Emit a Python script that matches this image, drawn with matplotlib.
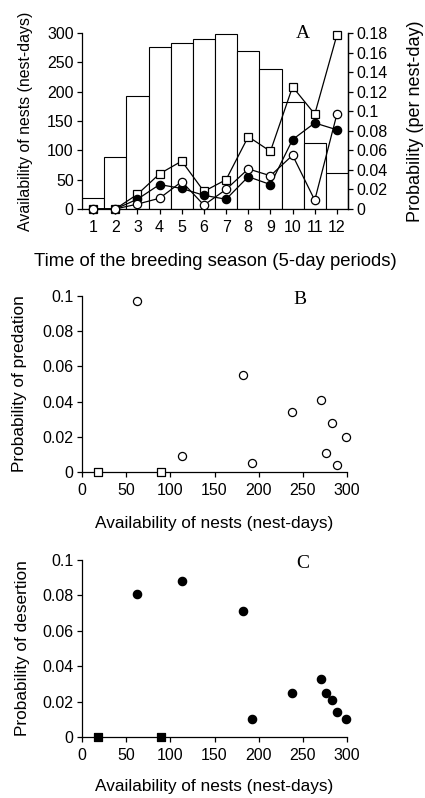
import numpy as np
import matplotlib
matplotlib.use('Agg')
import matplotlib.pyplot as plt
from matplotlib.ticker import FuncFormatter

plt.rcParams['font.family'] = ['Liberation Sans', 'DejaVu Sans']
plt.rcParams['font.size'] = 11.5

# data
periods = list(range(1, 13))
availability = [18, 89, 192, 276, 283, 289, 299, 270, 238, 182, 113, 62]     # nest-days
p_predation = [0, 0, 0.005, 0.011, 0.028, 0.004, 0.020, 0.041, 0.034, 0.055, 0.009, 0.097]
p_desertion = [0, 0, 0.010, 0.025, 0.021, 0.014, 0.010, 0.033, 0.025, 0.071, 0.088, 0.081]
p_total = [0, 0, 0.015, 0.036, 0.049, 0.018, 0.030, 0.074, 0.059, 0.125, 0.097, 0.178]

avail = np.array(availability)
pred = np.array(p_predation)
dese = np.array(p_desertion)
zero_mask = (pred == 0) & (dese == 0)

W, H = 425, 798
fig = plt.figure(figsize=(W/100., H/100.), dpi=100)

def axes_px(left, right, top, bottom):
    return fig.add_axes([left/W, 1-bottom/H, (right-left)/W, (bottom-top)/H])

def style(ax, right=False):
    ax.spines['top'].set_visible(False)
    if not right:
        ax.spines['right'].set_visible(False)
    for s in ax.spines.values():
        s.set_linewidth(0.9)
    ax.tick_params(direction='out', length=3.5, width=0.9, labelsize=11.5)
    ax.tick_params(axis='x', pad=4.5)
    ax.tick_params(axis='y', pad=2.5)

def place_labels(ax, xl, xs, xy, yl, ys, yx):
    ax.set_xlabel(xl, fontsize=xs)
    ax.set_ylabel(yl, fontsize=ys)
    ax.xaxis.set_label_coords(0.5, xy)
    ax.yaxis.set_label_coords(yx, 0.5)
    ax.xaxis.label.set_verticalalignment('center')
    ax.yaxis.label.set_verticalalignment('center')

gfmt = FuncFormatter(lambda v, p: ('%g' % v))

#### PANEL A ####
ax = axes_px(82, 348, 33, 209)
ax.bar(periods, availability, width=1.0, color='white', edgecolor='black', linewidth=0.8, zorder=1)
ax.set_xlim(0.5, 12.5)
ax.set_ylim(0, 300)
ax.set_yticks(range(0, 301, 50))
ax.set_xticks(periods)
style(ax, right=True)
place_labels(ax, 'Time of the breeding season (5-day periods)', 13.3, -0.30,
             'Availability of nests (nest-days)', 11.4, -0.214)

ax2 = ax.twinx()
ax2.set_ylim(0, 0.18)
ax2.set_yticks(np.arange(0, 0.181, 0.02))
ax2.yaxis.set_major_formatter(gfmt)
for s in ['top', 'left', 'bottom']:
    ax2.spines[s].set_visible(False)
ax2.spines['right'].set_linewidth(0.9)
ax2.tick_params(direction='out', length=3.5, width=0.9, labelsize=11.5, pad=2.5)
ax2.set_ylabel('Probability (per nest-day)', fontsize=13)
ax2.yaxis.set_label_coords(1.252, 0.5)
ax2.yaxis.label.set_verticalalignment('center')

# total (squares), desertion (filled), predation (open)
ax2.plot(periods, p_total, color='black', lw=0.9, marker='s', ms=5.8, mfc='white', mec='black', mew=0.9, zorder=3, clip_on=False)
ax2.plot(periods, p_desertion, color='black', lw=0.9, marker='o', ms=6, mfc='black', mec='black', mew=0.9,
         markevery=list(range(2, 12)), zorder=4, clip_on=False)
ax2.plot(periods, p_predation, color='black', lw=0.9, marker='o', ms=6, mfc='white', mec='black', mew=0.9, zorder=5, clip_on=False)
fig.text(303/W, 1-34/H, 'A', fontsize=14, family='Liberation Serif', ha='center', va='center')

#### PANEL B ####
axb = axes_px(82, 347, 296, 472)
axb.scatter(avail[~zero_mask], pred[~zero_mask], s=34, facecolor='white', edgecolor='black', linewidth=0.9, zorder=3, clip_on=False)
axb.scatter(avail[zero_mask], pred[zero_mask], s=34, marker='s', facecolor='white', edgecolor='black', linewidth=0.9, zorder=3, clip_on=False)
axb.set_xlim(0, 300); axb.set_ylim(0, 0.1)
axb.set_xticks(range(0, 301, 50)); axb.set_yticks(np.arange(0, 0.101, 0.02))
axb.yaxis.set_major_formatter(gfmt)
style(axb)
place_labels(axb, 'Availability of nests (nest-days)', 12.4, -0.29,
             'Probability of predation', 12.4, -0.234)
fig.text(300/W, 1-300/H, 'B', fontsize=14, family='Liberation Serif', ha='center', va='center')

#### PANEL C ####
axc = axes_px(82, 347, 560, 737)
axc.scatter(avail[~zero_mask], dese[~zero_mask], s=36, facecolor='black', edgecolor='black', linewidth=0.9, zorder=3, clip_on=False)
axc.scatter(avail[zero_mask], dese[zero_mask], s=36, marker='s', facecolor='black', edgecolor='black', linewidth=0.9, zorder=3, clip_on=False)
axc.set_xlim(0, 300); axc.set_ylim(0, 0.1)
axc.set_xticks(range(0, 301, 50)); axc.set_yticks(np.arange(0, 0.101, 0.02))
axc.yaxis.set_major_formatter(gfmt)
style(axc)
place_labels(axc, 'Availability of nests (nest-days)', 12.4, -0.282,
             'Probability of desertion', 12.4, -0.226)
fig.text(303/W, 1-563/H, 'C', fontsize=14, family='Liberation Serif', ha='center', va='center')

plt.savefig('out.png', dpi=100)
